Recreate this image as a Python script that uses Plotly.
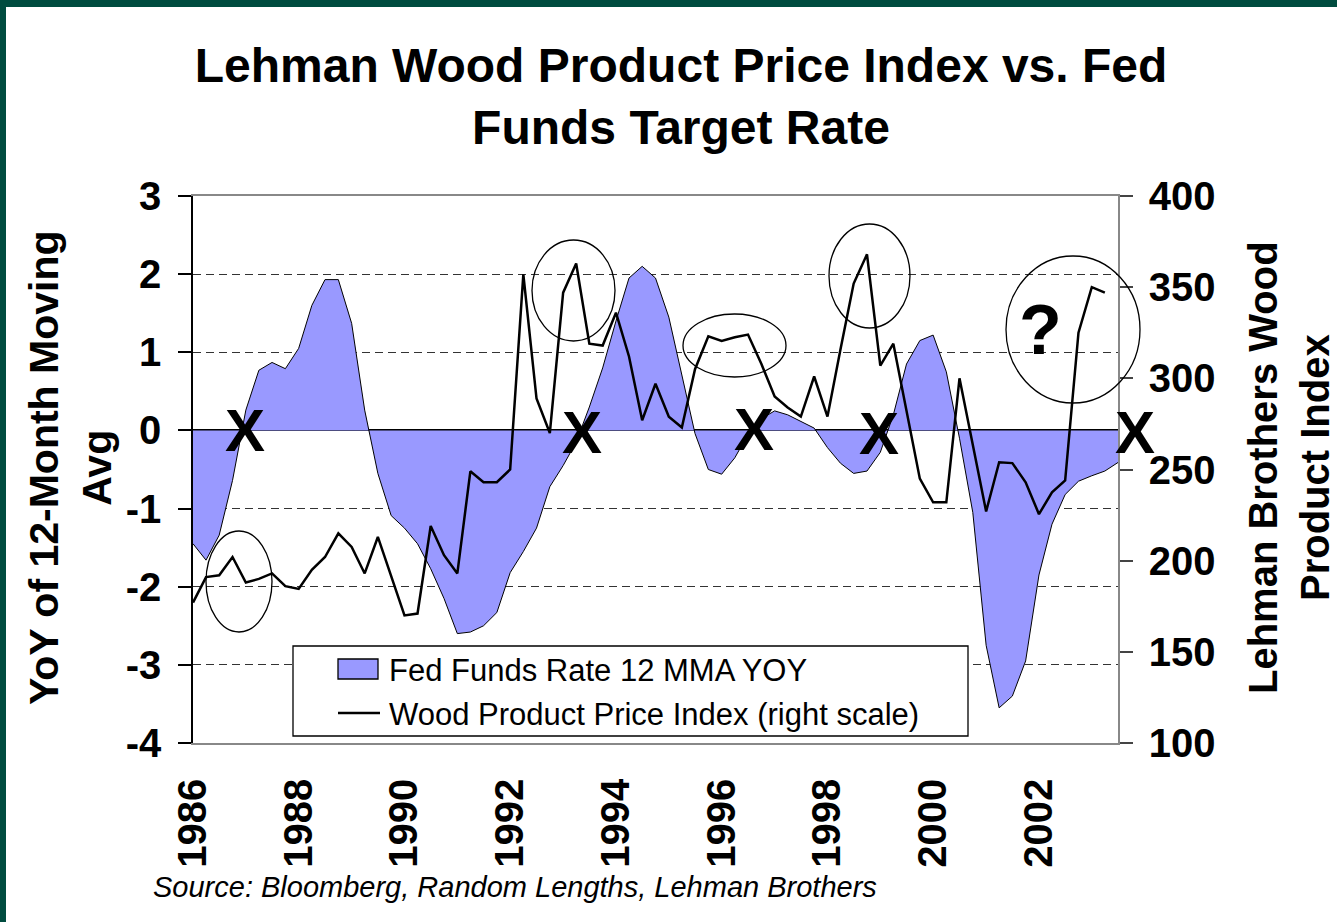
import pandas as pd
import plotly.graph_objects as go

# ---- data (quarterly) ----
fed_yoy = [-1.45, -1.66, -1.34, -0.64, 0.26, 0.77, 0.87, 0.79, 1.05, 1.60, 1.93, 1.93, 1.37, 0.26,
           -0.55, -1.09, -1.25, -1.45, -1.77, -2.15, -2.60, -2.58, -2.50, -2.33, -1.82, -1.55, -1.25,
           -0.72, -0.45, -0.15, 0.30, 0.80, 1.40, 1.95, 2.10, 1.95, 1.45, 0.70, -0.04, -0.50, -0.56,
           -0.35, -0.05, 0.15, 0.25, 0.20, 0.12, 0.03, -0.22, -0.42, -0.55, -0.52, -0.28, 0.20, 0.85,
           1.15, 1.22, 0.75, -0.10, -1.05, -2.75, -3.55, -3.40, -2.95, -1.85, -1.20, -0.82, -0.65,
           -0.58, -0.52, -0.41]
wood_index = [177, 191, 192, 202, 188, 190, 193, 186, 184.5, 195, 202, 215, 207.5, 193, 213, 191,
              170, 171, 219, 203, 193, 249, 243, 243, 250, 357, 289, 270, 347, 363, 319, 318, 336,
              312, 277, 297, 279, 273, 305, 323, 320.5, 322.5, 324, 308, 290, 284, 279, 301, 279,
              316, 352, 368, 307, 319, 282, 245, 232, 232, 300, 264, 227, 254, 253.5, 243, 225.5,
              237.5, 244, 325, 350, 347]
dates = pd.date_range("1986-01-01", periods=len(fed_yoy), freq="QS")
left_ticks = [3, 2, 1, 0, -1, -2, -3, -4]
left_tick_labels = ["3", "2", "1", "0", "-1", "-2", "-3", "-4"]
right_ticks = [400, 350, 300, 250, 200, 150, 100]

W, H = 1337, 922
L, R, T, B = 193, 1118, 196, 743


def px(x):
    return (x - L) / (R - L)


def py(y):
    return (B - y) / (B - T)


FONT = "Liberation Sans, Arial, sans-serif"

fig = go.Figure()
fig.add_trace(go.Scatter(x=dates, y=fed_yoy, mode="lines", fill="tozeroy",
                         fillcolor="#9999FF", line=dict(color="black", width=1),
                         name="Fed Funds Rate 12 MMA YOY", showlegend=False))
fig.add_trace(go.Scatter(x=dates[:len(wood_index)], y=wood_index, mode="lines", yaxis="y2",
                         line=dict(color="black", width=2.5),
                         name="Wood Product Price Index (right scale)", showlegend=False))

tickfont = dict(family=FONT, size=40, color="black", weight="bold")

fig.update_layout(
    width=W, height=H, autosize=False,
    margin=dict(l=L, r=W - R, t=T, b=H - B),
    paper_bgcolor="white", plot_bgcolor="white",
    title=dict(text="Lehman Wood Product Price Index vs. Fed<br>Funds Target Rate",
               x=681 / W, xanchor="center", y=1 - 82 / H, yanchor="middle", yref="container",
               font=dict(family=FONT, size=48, color="black", weight="bold")),
    xaxis=dict(type="date", range=["1986-01-01", "2003-07-01"], tick0="1986-01-01", dtick="M24",
               tickformat="%Y", tickangle=-90, tickfont=tickfont, ticks="", showgrid=False,
               showline=True, linecolor="#888", linewidth=1.5, mirror=True, zeroline=False,
               ticklabelstandoff=18, layer="above traces"),
    yaxis=dict(range=[-4, 3], tickvals=left_ticks, ticktext=left_tick_labels, ticks="outside",
               ticklen=13, tickcolor="black",
               tickwidth=1.5, tickfont=tickfont, showline=True, linecolor="black", linewidth=1.5,
               showgrid=True, gridcolor="#333", griddash="8px,5px", gridwidth=1,
               zeroline=True, zerolinecolor="black", zerolinewidth=1.5, layer="above traces",
               ticklabelstandoff=9),
    yaxis2=dict(range=[100, 400], tickvals=right_ticks, overlaying="y", side="right",
                ticks="outside", ticklen=13, tickcolor="#444", tickwidth=1.5, tickfont=tickfont,
                showline=True, linecolor="#888", linewidth=1.5, showgrid=False, zeroline=False,
                ticklabelstandoff=8),
)

shapes = []
# dark green frame (top and left)
shapes.append(dict(type="rect", xref="paper", yref="paper", x0=px(0), x1=px(W), y0=py(7), y1=py(0),
                   fillcolor="#004C3F", line=dict(width=0), layer="above"))
shapes.append(dict(type="rect", xref="paper", yref="paper", x0=px(0), x1=px(6), y0=py(H), y1=py(0),
                   fillcolor="#004C3F", line=dict(width=0), layer="above"))
# ellipses
for (x0, x1, y0, y1) in [(206, 272, 531, 632), (532, 615, 240, 341), (683, 786, 314, 377),
                         (829, 910, 224, 328), (1006, 1140, 256, 403)]:
    shapes.append(dict(type="circle", xref="paper", yref="paper", x0=px(x0), x1=px(x1),
                       y0=py(y1), y1=py(y0), line=dict(color="black", width=1.3), layer="above"))
# manual legend
shapes.append(dict(type="rect", xref="paper", yref="paper", x0=px(293), x1=px(968), y0=py(736),
                   y1=py(646), fillcolor="white", line=dict(color="black", width=1.3), layer="above"))
shapes.append(dict(type="rect", xref="paper", yref="paper", x0=px(338), x1=px(378), y0=py(679),
                   y1=py(659), fillcolor="#9999FF", line=dict(color="black", width=1.3), layer="above"))
shapes.append(dict(type="line", xref="paper", yref="paper", x0=px(338), x1=px(380), y0=py(713),
                   y1=py(713), line=dict(color="black", width=2.5), layer="above"))
fig.update_layout(shapes=shapes)

ann = []
ann.append(dict(text="Fed Funds Rate 12 MMA YOY", xref="paper", yref="paper", x=px(387), y=py(670),
                xanchor="left", yanchor="middle", showarrow=False,
                font=dict(family=FONT, size=31, color="black")))
ann.append(dict(text="Wood Product Price Index (right scale)", xref="paper", yref="paper",
                x=px(387), y=py(714), xanchor="left", yanchor="middle", showarrow=False,
                font=dict(family=FONT, size=31, color="black")))
# axis titles
ann.append(dict(text="YoY of 12-Month Moving<br>Avg", xref="paper", yref="paper", x=px(70),
                y=py(468), xanchor="center", yanchor="middle", textangle=-90, showarrow=False,
                font=dict(family=FONT, size=41, color="black", weight="bold")))
ann.append(dict(text="Lehman Brothers Wood<br>Product Index", xref="paper", yref="paper", x=px(1289),
                y=py(468), xanchor="center", yanchor="middle", textangle=-90, showarrow=False,
                font=dict(family=FONT, size=40, color="black", weight="bold")))
# X markers and question mark
for (xx, yy) in [(245, 430), (582, 432), (754, 429), (879, 433), (1135, 432)]:
    ann.append(dict(text="X", xref="paper", yref="paper", x=px(xx), y=py(yy), xanchor="center",
                    yanchor="middle", showarrow=False,
                    font=dict(family=FONT, size=60, color="black", weight="bold")))
ann.append(dict(text="?", xref="paper", yref="paper", x=px(1040), y=py(330), xanchor="center",
                yanchor="middle", showarrow=False,
                font=dict(family=FONT, size=70, color="black", weight="bold")))
# source
ann.append(dict(text="Source: Bloomberg, Random Lengths, Lehman Brothers", xref="paper",
                yref="paper", x=px(151), y=py(887), xanchor="left", yanchor="middle",
                showarrow=False, font=dict(family=FONT, size=29, color="black", style="italic")))
fig.update_layout(annotations=ann)

fig.write_html("out.html", config={"displayModeBar": False},
               post_script="document.body.style.margin='0';")
